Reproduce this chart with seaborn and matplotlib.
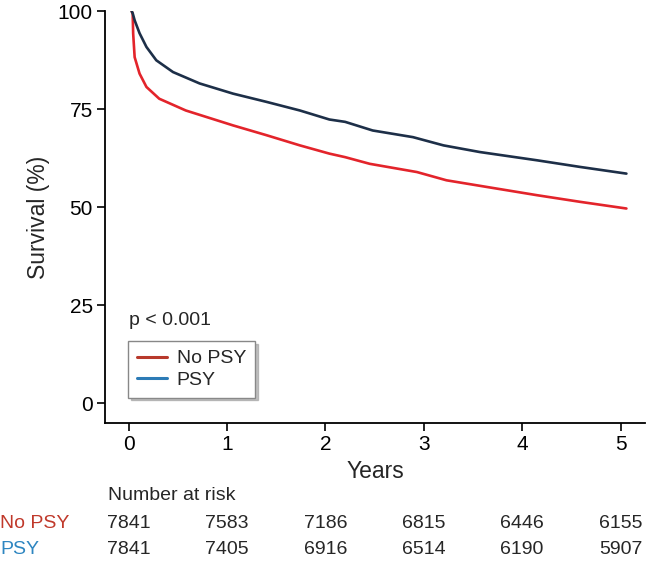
#curvas de sobrevida (Kaplan-Meier) com tabela de numero em risco

import pandas as pd
import matplotlib.pyplot as plt
import seaborn as sns
from matplotlib.lines import Line2D

# tempo (anos) e sobrevida (%)
t_psy = [0.03, 0.04, 0.06, 0.11, 0.18, 0.28, 0.45, 0.72, 1.06, 1.40, 1.74, 2.04,
         2.20, 2.48, 2.89, 3.20, 3.57, 4.15, 4.59, 5.06]
s_psy = [100, 99.5, 97.7, 94.4, 90.9, 87.5, 84.5, 81.6, 79.0, 76.9, 74.7, 72.4,
         71.8, 69.6, 67.9, 65.8, 64.1, 62.0, 60.3, 58.6]

t_nopsy = [0.03, 0.04, 0.045, 0.06, 0.11, 0.18, 0.31, 0.58, 1.06, 1.40, 1.74, 2.04,
           2.20, 2.45, 2.93, 3.23, 3.64, 4.15, 4.59, 5.06]
s_nopsy = [100, 99.4, 94.3, 88.3, 84.1, 80.7, 77.7, 74.7, 70.9, 68.4, 65.8, 63.7,
           62.8, 61.1, 59.0, 56.9, 55.2, 53.1, 51.4, 49.7]

# numero em risco
anos = [0, 1, 2, 3, 4, 5]
risco_nopsy = [7841, 7583, 7186, 6815, 6446, 6155]
risco_psy = [7841, 7405, 6916, 6514, 6190, 5907]

base = pd.concat([
    pd.DataFrame({'Years': t_nopsy, 'Survival': s_nopsy, 'grupo': 'No PSY'}),
    pd.DataFrame({'Years': t_psy, 'Survival': s_psy, 'grupo': 'PSY'}),
])

sns.set_style('ticks')
plt.rcParams['font.family'] = ['Liberation Sans', 'DejaVu Sans']

fig = plt.figure(figsize=(6.49, 5.64), dpi=100)
ax = fig.add_axes([0.162, 0.25, 0.832, 0.73])

sns.lineplot(data=base, x='Years', y='Survival', hue='grupo',
             palette={'No PSY': '#e3242b', 'PSY': '#1d2f48'},
             linewidth=1.9, legend=False, ax=ax)

ax.set_xlim(-0.24, 5.25)
ax.set_ylim(-5, 100)
ax.set_xticks(anos)
ax.set_yticks([0, 25, 50, 75, 100])
ax.tick_params(labelsize=15, length=6, width=1.2, pad=3, colors='black')
for s in ['left', 'bottom']:
    ax.spines[s].set_linewidth(1.3)
    ax.spines[s].set_color('black')
sns.despine(ax=ax)

ax.set_xlabel('Years', fontsize=16.5)
ax.set_ylabel('Survival (%)', fontsize=16.5)
ax.xaxis.set_label_coords(0.5, -0.09)
ax.yaxis.set_label_coords(-0.102, 0.5)

ax.text(0.0, 21.2, 'p < 0.001', fontsize=14, va='center', ha='left')

# legenda (cores diferentes das curvas, como no original)
handles = [Line2D([], [], color='#b8392c', lw=2.2),
           Line2D([], [], color='#2c7bb6', lw=2.2)]
ax.legend(handles, ['No PSY', 'PSY'], loc='upper left',
          bbox_to_anchor=(0.0426, 0.199), borderaxespad=0, fontsize=14,
          frameon=True, fancybox=False, shadow={'color': '#999999', 'alpha': 0.6},
          edgecolor='#888888', handlelength=1.55, handletextpad=0.5,
          borderpad=0.45, labelspacing=0.2)

# tabela numero em risco
trans = ax.get_xaxis_transform()
fig.text(108 / 649, 1 - 495 / 564, 'Number at risk', fontsize=14, va='center')
fig.text(0.0, 1 - 523 / 564, 'No PSY', fontsize=14, va='center', color='#c0392b')
fig.text(0.0, 1 - 550 / 564, 'PSY', fontsize=14, va='center', color='#2e86c1')
y1 = (1 - 523 / 564 - 0.25) / 0.73
y2 = (1 - 550 / 564 - 0.25) / 0.73
for a, n1, n2 in zip(anos, risco_nopsy, risco_psy):
    ax.text(a, y1, str(n1), transform=trans, fontsize=14, ha='center', va='center', clip_on=False)
    ax.text(a, y2, str(n2), transform=trans, fontsize=14, ha='center', va='center', clip_on=False)

fig.savefig('out.png', dpi=100)
